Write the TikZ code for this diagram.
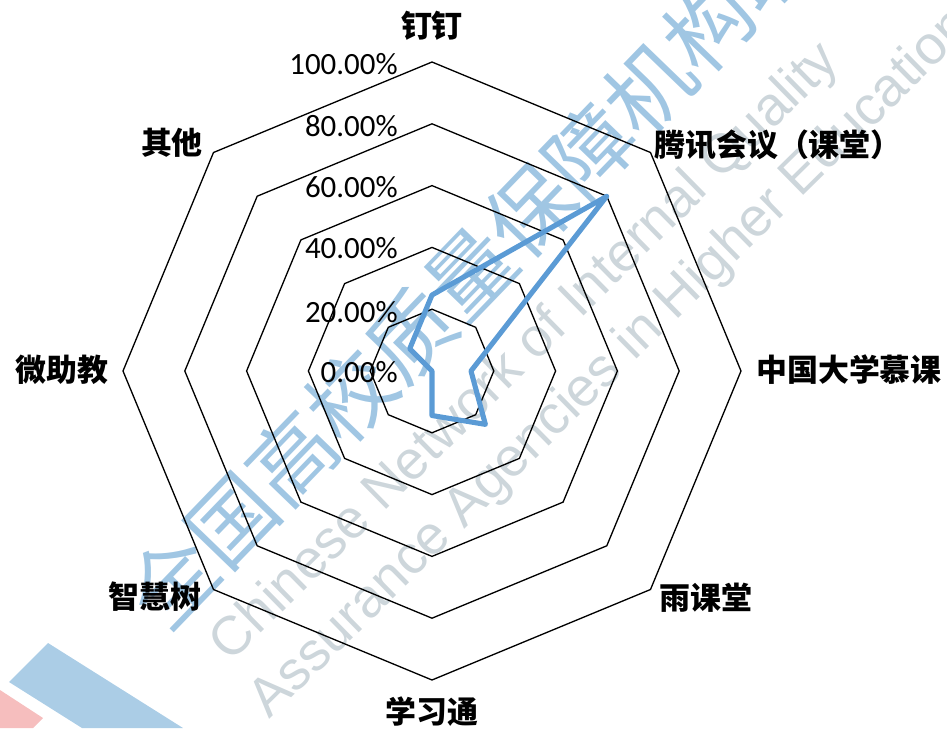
\documentclass[tikz,border=0pt]{standalone}
\usepackage{xcolor}
\usepackage{fontspec}
\newfontfamily\cjk{Noto Sans CJK SC}
\newfontfamily\pctfont{Carlito}
\newfontfamily\wmfont{Liberation Sans}
\definecolor{serieblue}{RGB}{91,155,213}
\definecolor{wmblue}{RGB}{160,198,227}
\definecolor{wmgrey}{RGB}{205,214,219}
\definecolor{stripeblue}{RGB}{171,205,230}
\definecolor{stripepink}{RGB}{246,190,190}

\begin{document}
\begin{tikzpicture}[x=0.02cm, y=0.02cm,
	ring/.style={draw=black, line width=0.75pt, line join=miter},
	serie/.style={draw=serieblue, line width=2.9pt, line join=round},
	axislabel/.style={font=\cjk\bfseries\fontsize{17.6}{20}\selectfont, inner sep=0pt},
	pct/.style={font=\pctfont\fontsize{17.6}{20}\selectfont, anchor=east, inner sep=0pt},
	wmcn/.style={font=\cjk\fontsize{48.8}{50}\selectfont, text=wmblue, rotate=46, inner sep=0pt},
	wmen/.style={font=\wmfont\fontsize{31}{33}\selectfont, text=wmgrey, rotate=44.5, inner sep=0pt}]
	\useasboundingbox (-432,-357) rectangle (515,371);
	\fill[stripepink] (-432,-319) -- (-389,-347) -- (-399,-357) -- (-432,-357) -- cycle;
	\fill[stripeblue] (-384,-272) -- (-249,-357) -- (-350,-357) -- (-423,-311) -- cycle;
	\node[wmcn] (wmcn) at (68,129) {全国高校质量保障机构联盟};
	\node[wmen] (wmen1) at (94,18) {Chinese Network of Internal Quality};
	\node[wmen] (wmen2) at (180,7) {Assurance Agencies in Higher Education};
	\foreach \r in {61.8,123.6,185.4,247.2,309}
		\draw[ring] (90:\r) -- (45:\r) -- (0:\r) -- (-45:\r) -- (-90:\r) -- (-135:\r) -- (180:\r) -- (135:\r) -- cycle;
	\node[pct] (p100) at (-34,306.5) {100.00\%};
	\node[pct] (p80) at (-34,245) {80.00\%};
	\node[pct] (p60) at (-34,184) {60.00\%};
	\node[pct] (p40) at (-34,123) {40.00\%};
	\node[pct] (p20) at (-34,59) {20.00\%};
	\node[pct] (p0) at (-34,-1) {0.00\%};
	\draw[serie] (90:76) -- (45:247) -- (0:39) -- (-45:75.5) -- (-90:44.5) -- (-135:0) -- (180:0) -- (135:31.5) -- cycle;
	\node[axislabel] (dingding) at (0,345) {钉钉};
	\node[axislabel] (tencent) at (346,226) {腾讯会议（课堂）};
	\node[axislabel] (mooc) at (417,1) {中国大学慕课};
	\node[axislabel] (rain) at (274,-227) {雨课堂};
	\node[axislabel] (xuexi) at (0,-341) {学习通};
	\node[axislabel] (zhihui) at (-277,-226) {智慧树};
	\node[axislabel] (weizhu) at (-370,1) {微助教};
	\node[axislabel] (other) at (-260,228) {其他};
\end{tikzpicture}
\end{document}
